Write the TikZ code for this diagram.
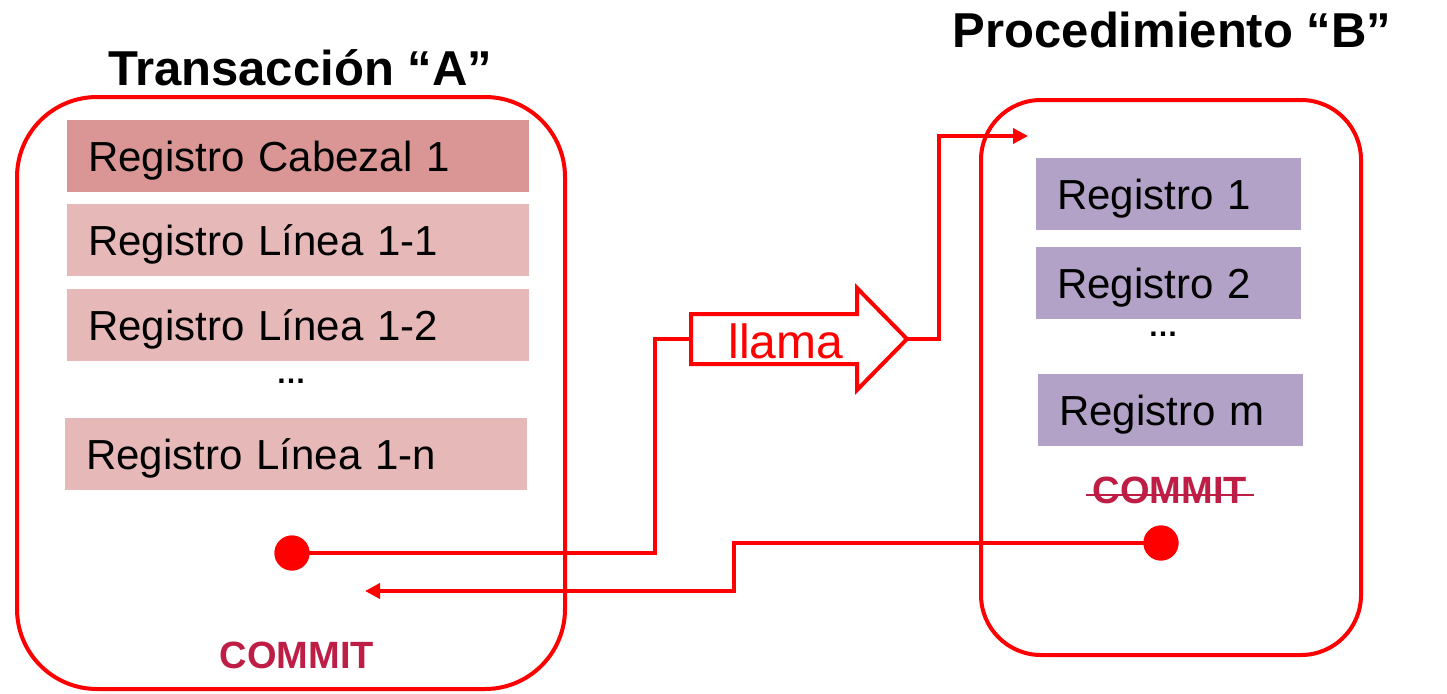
\documentclass[tikz,border=0pt]{standalone}
\usepackage{fontspec}
\setmainfont{Liberation Sans}
\usetikzlibrary{arrows.meta,calc}
\definecolor{cabfill}{HTML}{D99694}
\definecolor{linfill}{HTML}{E6B9B8}
\definecolor{procfill}{HTML}{B3A2C7}
\definecolor{commitc}{HTML}{BE1E45}
\definecolor{linkred}{HTML}{FF0000}
\begin{document}
\begin{tikzpicture}[x=1pt,y=-1pt,
  frame/.style={draw=linkred, line width=4pt, rounded corners=#1},
  rec/.style={anchor=north west, fill=#1, minimum height=72pt, inner sep=0pt,
    align=left, font=\fontsize{42}{50}\selectfont, text height=36pt, text depth=6pt},
  leftrec/.style={rec=#1, minimum width=462pt, text width=420pt},
  rightrec/.style={rec=#1, minimum width=265pt, text width=223pt},
  titletext/.style={anchor=base, font=\bfseries\fontsize{49}{56}\selectfont},
  committext/.style={anchor=base, text=commitc, font=\bfseries\fontsize{38}{44}\selectfont},
  dotstext/.style={font=\bfseries\fontsize{30}{32}\selectfont},
  conn/.style={draw=linkred, line width=4pt},
  tipped/.style={conn, -{Triangle[length=15pt,width=15pt]}},
  reddot/.style={circle, fill=linkred, minimum size=35pt, inner sep=0pt}
]
\useasboundingbox (0,0) rectangle (1447,693);

% frames
\draw[frame=80pt] (17,97) rectangle (565,689);
\draw[frame=60pt] (981,100) rectangle (1361,655);

% titles
\node[titletext] (tA) at (300,85) {Transacción “A”};
\node[titletext] (tB) at (1172,48) {Procedimiento “B”};

% left records
\node[leftrec=cabfill] (cab) at (67,120) {Registro Cabezal 1};
\node[leftrec=linfill] (l11) at (67,204) {Registro Línea 1-1};
\node[leftrec=linfill] (l12) at (67,289) {Registro Línea 1-2};
\node[dotstext] (dl) at (291,381) {…};
\node[leftrec=linfill] (l1n) at (65,418) {Registro Línea 1-n};

% right records
\node[rightrec=procfill] (r1) at (1036,158) {Registro 1};
\node[rightrec=procfill] (r2) at (1036,247) {Registro 2};
\node[dotstext] (dr) at (1163,334) {…};
\node[rightrec=procfill] (rm) at (1038,374) {Registro m};

% commits
\node[committext] (cA) at (297,668) {COMMIT};
\node[committext] (cB) at (1170,503) {COMMIT};
\draw[commitc, line width=2pt] ($(cB.base west)+(-3,-8)$) -- ($(cB.base east)+(3,-8)$);

% llama arrow
\coordinate (llT) at (691,339);
\coordinate (llH) at (907,339);
\draw[conn, fill=white, line join=miter] (llT) |- (857,314) -- (857,288) -- (llH) -- (857,390) -- (857,364) -| (llT) -- cycle;
\node[anchor=base, text=linkred, font=\fontsize{48}{54}\selectfont] (llama) at (786,358) {llama};

% connectors
\node[reddot] (dA) at (292,553) {};
\node[reddot] (dB) at (1161,543) {};
\coordinate (inB) at (1028,136);
\coordinate (retA) at (365,591);
\draw[conn] (dA.center) -| (655,339) -- (llT);
\draw[tipped] (llH) -| (939,136) -- (inB);
\draw[tipped] (dB.center) -| (734,591) -- (retA);
\node[reddot] at (dA) {};
\node[reddot] at (dB) {};
\end{tikzpicture}
\end{document}
